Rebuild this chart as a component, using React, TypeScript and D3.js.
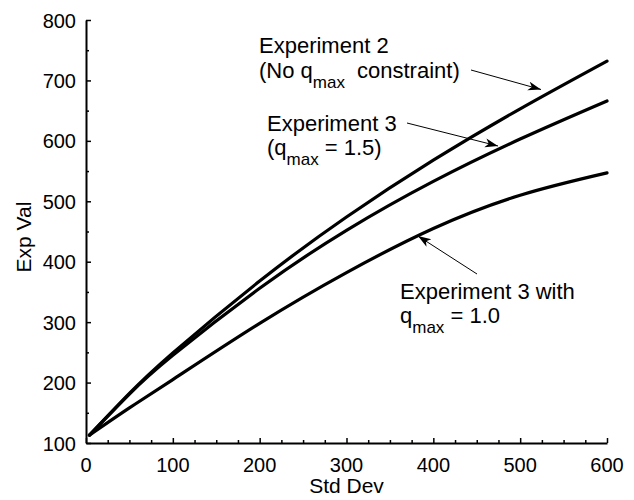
import * as d3 from "d3";
import { useEffect, useRef } from "react";

// values
const stdDev = [4, 50, 100, 200, 300, 400, 500, 600];
const exp2 = [113, 182, 249, 368, 474, 568, 653, 732];
const exp3q15 = [113, 181, 245, 356, 452, 533, 603, 666];
const exp3q10 = [113, 158, 205, 298, 382, 455, 510, 547];

const xTicks = [0, 100, 200, 300, 400, 500, 600];
const yTicks = [100, 200, 300, 400, 500, 600, 700, 800];

const App = () => {
  const svgRef = useRef(null);

  useEffect(() => {
    const w = 634;
    const h = 500;
    const svg = d3.select(svgRef.current).attr("width", w).attr("height", h);
    svg.selectAll("*").remove();

    const font = "'Liberation Sans', Arial, Helvetica, sans-serif";

    const xScale = d3.scaleLinear().domain([0, 600]).range([86, 607]);
    const yScale = d3.scaleLinear().domain([100, 800]).range([443, 20]);

    // arrow head
    svg
      .append("defs")
      .append("marker")
      .attr("id", "head")
      .attr("markerUnits", "userSpaceOnUse")
      .attr("markerWidth", 14)
      .attr("markerHeight", 10)
      .attr("refX", 13)
      .attr("refY", 4.5)
      .attr("orient", "auto")
      .append("path")
      .attr("d", "M0,0 L13,4.5 L0,9 L3.5,4.5 Z")
      .attr("fill", "#000");

    // axes (ticks point inward)
    const xAxis = d3
      .axisBottom(xScale)
      .tickValues(d3.range(0, 601, 25))
      .tickSize(0)
      .tickFormat(() => "");
    const gx = svg.append("g").attr("transform", `translate(0,${yScale(100)})`).call(xAxis);
    gx.select(".domain").attr("stroke", "#000").attr("stroke-width", 2);
    gx.selectAll(".tick line")
      .attr("y2", (d: any) => (d % 100 === 0 ? -5 : -3))
      .attr("stroke", "#000")
      .attr("stroke-width", 1.5);

    const yAxis = d3
      .axisLeft(yScale)
      .tickValues(d3.range(100, 801, 50))
      .tickSize(0)
      .tickFormat(() => "");
    const gy = svg.append("g").attr("transform", `translate(${xScale(0)},0)`).call(yAxis);
    gy.select(".domain").attr("stroke", "#000").attr("stroke-width", 2);
    gy.selectAll(".tick line")
      .attr("x2", (d: any) => (d % 100 === 0 ? 5 : 3))
      .attr("stroke", "#000")
      .attr("stroke-width", 1.5);

    // tick labels
    svg
      .selectAll(".xlab")
      .data(xTicks)
      .enter()
      .append("text")
      .attr("x", (d) => xScale(d))
      .attr("y", 472)
      .attr("text-anchor", "middle")
      .attr("font-family", font)
      .attr("font-size", 20)
      .text((d) => d);

    svg
      .selectAll(".ylab")
      .data(yTicks)
      .enter()
      .append("text")
      .attr("x", 76)
      .attr("y", (d) => yScale(d) + 7.5)
      .attr("text-anchor", "end")
      .attr("font-family", font)
      .attr("font-size", 20)
      .text((d) => d);

    // axis titles
    svg
      .append("text")
      .attr("x", 346.5)
      .attr("y", 493)
      .attr("text-anchor", "middle")
      .attr("font-family", font)
      .attr("font-size", 21)
      .text("Std Dev");

    svg
      .append("text")
      .attr("transform", "translate(31,237) rotate(-90)")
      .attr("text-anchor", "middle")
      .attr("font-family", font)
      .attr("font-size", 21)
      .text("Exp Val");

    // lines
    const line = d3
      .line<number>()
      .x((d, i) => xScale(stdDev[i]))
      .y((d) => yScale(d))
      .curve(d3.curveNatural);

    [exp2, exp3q15, exp3q10].forEach((s) => {
      svg
        .append("path")
        .attr("d", line(s))
        .attr("fill", "none")
        .attr("stroke", "#000")
        .attr("stroke-width", 3.2)
        .attr("stroke-linecap", "round");
    });

    // annotations
    const label = (x: number, y: number, pre: string, post: string, postX?: number) => {
      const t = svg
        .append("text")
        .attr("x", x)
        .attr("y", y)
        .attr("font-family", font)
        .attr("font-size", 22);
      t.append("tspan").text(pre);
      t.append("tspan").attr("dy", 10).attr("font-size", 17).text("max");
      const p = t.append("tspan").attr("dy", -10).text(post);
      if (postX) p.attr("x", postX);
    };

    svg
      .append("text")
      .attr("x", 259)
      .attr("y", 53)
      .attr("font-family", font)
      .attr("font-size", 22)
      .text("Experiment 2");
    label(259, 78, "(No q", "constraint)", 357);

    svg
      .append("text")
      .attr("x", 267)
      .attr("y", 131)
      .attr("font-family", font)
      .attr("font-size", 22)
      .text("Experiment 3");
    label(267, 155, "(q", " = 1.5)");

    svg
      .append("text")
      .attr("x", 400)
      .attr("y", 299)
      .attr("font-family", font)
      .attr("font-size", 22)
      .text("Experiment 3 with");
    label(400, 323, "q", " = 1.0");

    const arrows = [
      [471, 70, 541, 89.5],
      [407, 123, 498, 146],
      [477, 274, 418, 236],
    ];
    arrows.forEach(([x1, y1, x2, y2]) => {
      svg
        .append("line")
        .attr("x1", x1)
        .attr("y1", y1)
        .attr("x2", x2)
        .attr("y2", y2)
        .attr("stroke", "#000")
        .attr("stroke-width", 1)
        .attr("marker-end", "url(#head)");
    });
  }, []);

  return (
    <div>
      <svg ref={svgRef} style={{ position: "absolute", left: 0, top: 0, background: "#fff" }}></svg>
    </div>
  );
};

export default App;
